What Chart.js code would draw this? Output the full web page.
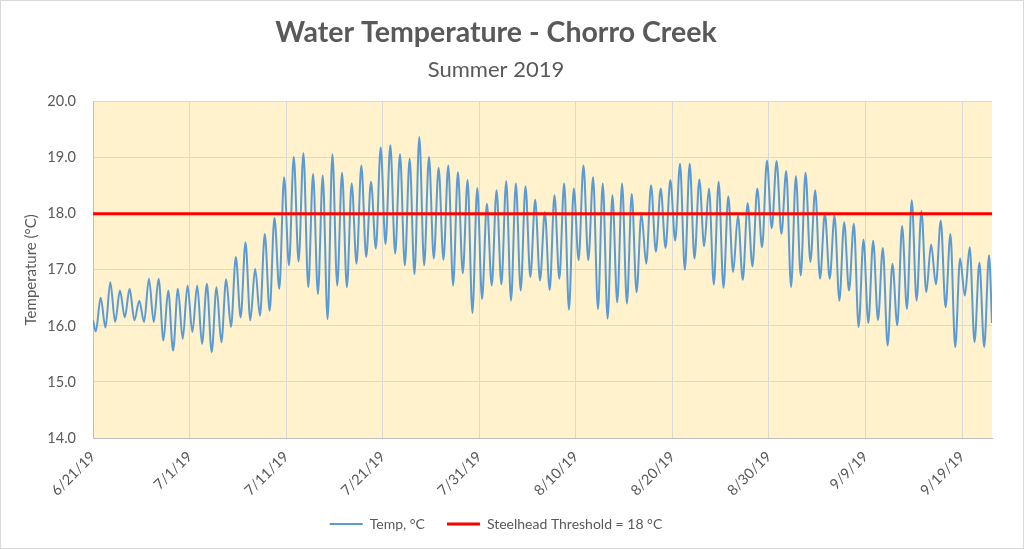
<!DOCTYPE html>
<html>
<head>
<meta charset="utf-8">
<title>Water Temperature - Chorro Creek</title>
<script src="https://cdn.jsdelivr.net/npm/chart.js@4.4.1/dist/chart.umd.min.js"></script>
<style>
  html, body { margin: 0; padding: 0; background: #fff; }
  #wrap { width: 1024px; height: 549px; position: relative; }
</style>
</head>
<body>
<div id="wrap"><canvas id="chart"></canvas></div>
<script>
// daily low (early morning) and high (evening) water temps, from 6/21/19
const dailyMin = [
  15.90, 15.97, 16.07, 16.15, 16.10, 16.07, 16.07, 15.74, 15.56, 15.77,
  15.89, 15.68, 15.53, 15.71, 15.98, 16.15, 16.10, 16.18, 16.27, 16.66,
  17.08, 17.15, 16.69, 16.57, 16.12, 16.72, 16.69, 17.11, 17.23, 17.38,
  17.46, 17.29, 17.08, 16.92, 17.08, 17.20, 17.18, 16.72, 16.94, 16.23,
  16.48, 16.72, 16.74, 16.45, 16.63, 16.87, 16.81, 16.64, 16.84, 16.29,
  17.17, 17.17, 16.30, 16.13, 16.42, 16.40, 16.60, 17.11, 17.32, 17.39,
  17.52, 17.00, 17.20, 17.42, 16.74, 16.68, 16.96, 16.82, 17.06, 17.40,
  17.74, 17.64, 16.69, 16.90, 17.14, 16.84, 16.84, 16.45, 16.63, 15.98,
  16.05, 16.10, 15.65, 16.01, 16.30, 16.45, 16.60, 16.74, 16.33, 15.62,
  16.54, 15.71, 15.62
];
const dailyMax = [
  16.50, 16.78, 16.63, 16.66, 16.45, 16.84, 16.84, 16.63, 16.66, 16.72,
  16.72, 16.75, 16.69, 16.83, 17.23, 17.49, 17.02, 17.64, 17.93, 18.65,
  19.01, 19.08, 18.71, 18.68, 19.06, 18.73, 18.54, 18.86, 18.57, 19.18,
  19.22, 19.06, 18.98, 19.37, 19.01, 18.82, 18.86, 18.74, 18.60, 18.46,
  18.18, 18.42, 18.58, 18.54, 18.49, 18.25, 18.03, 18.33, 18.54, 18.45,
  18.86, 18.65, 18.54, 18.33, 18.54, 18.35, 18.00, 18.51, 18.45, 18.60,
  18.89, 18.89, 18.61, 18.45, 18.57, 18.31, 17.97, 18.19, 18.45, 18.95,
  18.94, 18.76, 18.67, 18.73, 18.42, 18.01, 17.97, 17.85, 17.82, 17.54,
  17.52, 17.39, 17.11, 17.78, 18.24, 18.05, 17.45, 17.88, 17.64, 17.20,
  17.40, 17.13, 17.26
];
const startTemp = 16.1;
const endTemp = 16.05;
const endDay = 93.1;
const minHour = 7;
const maxHour = 19;

const thresholdValue = 18;
const tickDays = [0, 10, 20, 30, 40, 50, 60, 70, 80, 90];
const tickLabels = ["6/21/19", "7/1/19", "7/11/19", "7/21/19", "7/31/19",
                    "8/10/19", "8/20/19", "8/30/19", "9/9/19", "9/19/19"];

// build the time series: x = days since 6/21/19
const tempPoints = [{ x: 0, y: startTemp }];
dailyMin.forEach((lo, d) => {
  tempPoints.push({ x: d + minHour / 24, y: lo });
  tempPoints.push({ x: d + maxHour / 24, y: dailyMax[d] });
});
tempPoints.push({ x: endDay, y: endTemp });

const grey = "#595959";
const fontFamily = "Lato, 'Open Sans', sans-serif";

const plotBackground = {
  id: "plotBackground",
  beforeDraw(chart) {
    const { ctx, chartArea } = chart;
    ctx.save();
    ctx.fillStyle = "#FFF2CC";
    ctx.fillRect(chartArea.left, chartArea.top, chartArea.right - chartArea.left, chartArea.bottom - chartArea.top);
    ctx.strokeStyle = "#d9d9d9";
    ctx.lineWidth = 1;
    ctx.strokeRect(0.5, 0.5, chart.width - 1, chart.height - 1);
    ctx.restore();
  }
};

new Chart(document.getElementById("chart"), {
  type: "line",
  data: {
    datasets: [
      {
        label: "Temp, °C",
        data: tempPoints,
        borderColor: "#5B9BD5",
        backgroundColor: "#5B9BD5",
        borderWidth: 2,
        pointRadius: 0,
        cubicInterpolationMode: "monotone",
        order: 1
      },
      {
        label: "Steelhead Threshold = 18 °C",
        data: [{ x: 0, y: thresholdValue }, { x: endDay, y: thresholdValue }],
        borderColor: "#FF0000",
        backgroundColor: "#FF0000",
        borderWidth: 3,
        pointRadius: 0,
        order: 0
      }
    ]
  },
  options: {
    responsive: true,
    maintainAspectRatio: false,
    animation: false,
    layout: { padding: { left: 0, right: 32, top: 0, bottom: 8 } },
    plugins: {
      title: {
        display: true,
        text: "Water Temperature - Chorro Creek",
        color: grey,
        font: { family: fontFamily, size: 28.5, weight: "bold" },
        padding: { top: 16, bottom: 7 }
      },
      subtitle: {
        display: true,
        text: "Summer 2019",
        color: grey,
        font: { family: fontFamily, size: 22 },
        padding: { top: 0, bottom: 18 }
      },
      legend: {
        position: "bottom",
        labels: {
          color: grey,
          font: { family: fontFamily, size: 14 },
          usePointStyle: true,
          pointStyle: "line",
          pointStyleWidth: 33,
          padding: 22,
          sort: (a, b) => a.datasetIndex - b.datasetIndex
        }
      },
      tooltip: { enabled: false }
    },
    scales: {
      x: {
        type: "linear",
        min: 0,
        max: endDay,
        afterBuildTicks: (scale) => { scale.ticks = tickDays.map(v => ({ value: v })); },
        afterFit: (scale) => { scale.height = 57; },
        grid: { color: "#d9d9d9", drawTicks: false },
        border: { color: "#bfbfbf" },
        ticks: {
          color: grey,
          font: { family: fontFamily, size: 14.5 },
          autoSkip: false,
          minRotation: 45,
          maxRotation: 45,
          padding: 10,
          callback: (v) => tickLabels[tickDays.indexOf(v)]
        }
      },
      y: {
        min: 14,
        max: 20,
        afterFit: (scale) => { scale.width = 93; },
        grid: { color: "#d9d9d9", drawTicks: false },
        border: { color: "#bfbfbf" },
        ticks: {
          stepSize: 1,
          color: grey,
          font: { family: fontFamily, size: 14.5 },
          padding: 17,
          callback: (v) => v.toFixed(1)
        },
        title: {
          display: true,
          text: "Temperature (°C)",
          color: grey,
          font: { family: fontFamily, size: 15 },
          padding: { top: 22, bottom: 0 }
        }
      }
    }
  },
  plugins: [plotBackground]
});
</script>
</body>
</html>
